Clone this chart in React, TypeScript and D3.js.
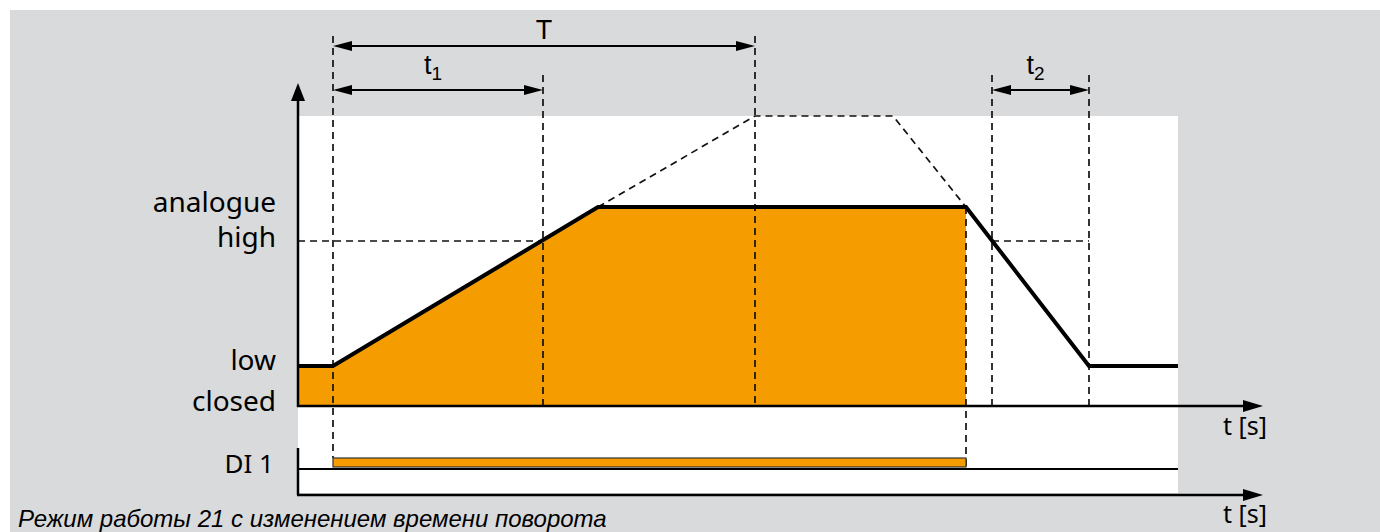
import * as d3 from "d3";

// time points (x units, 10 px each)
const rampStart = 3.5;
const t1End = 24.5;
const plateauStart = 30;
const bigTEnd = 45.7;
const setTopEnd = 59.5;
const fallStart = 66.8;
const t2Start = 69.4;
const t2End = 79.1;
const timeEnd = 88;
const axisEnd = 96.5;

// levels (percent of the y axis)
const levelNames = ["closed", "low", "high", "analogue"];
const levelValues = [0, 13.8, 56.9, 68.6];
const setTop = 100;
const yAxisTop = 111.4;

// actual output curve
const outputTimes = [0, rampStart, plateauStart, fallStart, t2End, timeEnd];
const outputLevels = [13.8, 13.8, 68.6, 68.6, 13.8, 13.8];

// dashed set-point curve beyond the limit
const setTimes = [plateauStart, bigTEnd, setTopEnd, fallStart];
const setLevels = [68.6, setTop, setTop, 68.6];

// DI 1 active interval
const diOn = [rampStart, fallStart];

// dimension arrows
const dims = [
  { label: "T", sub: "", from: rampStart, to: bigTEnd, row: 0 },
  { label: "t", sub: "1", from: rampStart, to: t1End, row: 1 },
  { label: "t", sub: "2", from: t2Start, to: t2End, row: 1 },
];

const caption = "Режим работы 21 с изменением времени поворота";

const ORANGE = "#f59c00";
const GRAY = "#d9dadc";
const labelFont = "'Noto Sans', 'DejaVu Sans', sans-serif";
const narrowFont = "'Liberation Sans Narrow', 'Liberation Sans', Arial, sans-serif";

export default function App() {
  const W = 1380;
  const H = 532;
  const x = d3.scaleLinear().domain([0, timeEnd]).range([298, 1178]);
  const y = d3.scaleLinear().domain([0, setTop]).range([406, 116]);

  const pts = outputTimes.map((t, i) => [t, outputLevels[i]] as [number, number]);
  const line = d3
    .line<[number, number]>()
    .x(d => x(d[0]))
    .y(d => y(d[1]));
  const area = d3
    .area<[number, number]>()
    .x(d => x(d[0]))
    .y0(y(0))
    .y1(d => y(d[1]));
  const fillPts = pts.filter(d => d[0] <= fallStart);
  const setPts = setTimes.map((t, i) => [t, setLevels[i]] as [number, number]);

  const lvl = (name: string) => levelValues[levelNames.indexOf(name)];

  const dimY = [46, 90];
  const diLineY = 469;
  const diBarTop = 458;
  const diBarBot = 467;
  const axis2Y = 495;
  const dash = "7 5";
  const dashW = 1.7;

  const vDashes = [
    { t: rampStart, y1: 36, y2: diBarTop },
    { t: t1End, y1: 75, y2: y(0) },
    { t: bigTEnd, y1: 36, y2: y(0) },
    { t: fallStart, y1: y(lvl("analogue")), y2: diLineY },
    { t: t2Start, y1: 75, y2: y(0) },
    { t: t2End, y1: 75, y2: y(0) },
  ];

  const hArrow = (tipX: number, yy: number, dir: number, len: number, hw: number) =>
    `M${tipX},${yy} L${tipX - dir * len},${yy - hw} L${tipX - dir * len},${yy + hw} Z`;

  const tAxisX = x(axisEnd);

  const labels = [
    { text: "analogue", yy: y(lvl("analogue")) + 5 },
    { text: "high", yy: y(lvl("high")) + 6 },
    { text: "low", yy: y(lvl("low")) + 4 },
    { text: "closed", yy: y(0) + 5 },
  ];

  return (
    <svg
      width={W}
      height={H}
      style={{ position: "absolute", left: 0, top: 0, display: "block" }}
    >
      <rect x={10} y={10} width={W - 10} height={H - 10} fill={GRAY} />
      <rect x={x(0)} y={y(setTop)} width={x(timeEnd) - x(0)} height={axis2Y - 2 - y(setTop)} fill="#fff" />

      {/* output area */}
      <path d={area(fillPts) || ""} fill={ORANGE} />

      {/* high reference dashes */}
      <line x1={x(0)} x2={x(t1End)} y1={y(lvl("high"))} y2={y(lvl("high"))} stroke="#111" strokeWidth={dashW} strokeDasharray={dash} />
      <line x1={x(t2Start)} x2={x(t2End)} y1={y(lvl("high"))} y2={y(lvl("high"))} stroke="#111" strokeWidth={dashW} strokeDasharray={dash} />

      {/* vertical dashes */}
      {vDashes.map((v, i) => (
        <line key={i} x1={x(v.t)} x2={x(v.t)} y1={v.y1} y2={v.y2} stroke="#111" strokeWidth={dashW} strokeDasharray={dash} />
      ))}

      {/* set-point dashed */}
      <path d={line(setPts) || ""} fill="none" stroke="#111" strokeWidth={dashW} strokeDasharray={dash} />

      {/* output line */}
      <path d={line(pts) || ""} fill="none" stroke="#000" strokeWidth={4} strokeLinejoin="miter" />

      {/* axes top chart */}
      <line x1={x(0)} x2={x(0)} y1={y(0) + 1} y2={y(yAxisTop) + 14} stroke="#000" strokeWidth={2.5} />
      <path d={`M${x(0)},${y(yAxisTop)} L${x(0) - 7},${y(yAxisTop) + 18} L${x(0) + 7},${y(yAxisTop) + 18} Z`} fill="#000" />
      <line x1={x(0) - 1} x2={tAxisX - 15} y1={y(0)} y2={y(0)} stroke="#000" strokeWidth={2.5} />
      <path d={hArrow(tAxisX, y(0), 1, 20, 6)} fill="#000" />
      <text x={tAxisX + 4} y={435} textAnchor="end" fontFamily={labelFont} fontSize={25} fill="#000">t [s]</text>

      {/* DI panel */}
      <line x1={x(0)} x2={x(0)} y1={448} y2={axis2Y} stroke="#000" strokeWidth={2.5} />
      <line x1={x(0)} x2={x(timeEnd)} y1={diLineY} y2={diLineY} stroke="#000" strokeWidth={2} />
      <rect x={x(diOn[0])} y={diBarTop} width={x(diOn[1]) - x(diOn[0])} height={diBarBot - diBarTop} fill={ORANGE} stroke="#333" strokeWidth={1.2} />
      <line x1={x(0) - 1} x2={tAxisX - 15} y1={axis2Y} y2={axis2Y} stroke="#000" strokeWidth={2.5} />
      <path d={hArrow(tAxisX, axis2Y, 1, 20, 6)} fill="#000" />
      <text x={tAxisX + 4} y={523} textAnchor="end" fontFamily={labelFont} fontSize={25} fill="#000">t [s]</text>
      <text x={274} y={473} textAnchor="end" fontFamily={labelFont} fontSize={26} fill="#000">DI 1</text>

      {/* level labels */}
      {labels.map(l => (
        <text key={l.text} x={276} y={l.yy} textAnchor="end" fontFamily={labelFont} fontSize={28} fill="#000">
          {l.text}
        </text>
      ))}

      {/* dimension arrows */}
      {dims.map((d, i) => {
        const yy = dimY[d.row];
        const a = x(d.from);
        const b = x(d.to);
        const mid = (a + b) / 2;
        return (
          <g key={i}>
            <line x1={a + 10} x2={b - 10} y1={yy} y2={yy} stroke="#000" strokeWidth={2.2} />
            <path d={hArrow(a, yy, -1, 19, 5)} fill="#000" />
            <path d={hArrow(b, yy, 1, 19, 5)} fill="#000" />
            <text x={d.sub ? mid - 5 : mid} y={d.row === 0 ? 39 : 74} textAnchor="middle" fontFamily={narrowFont} fontSize={27} fill="#000">
              {d.label}
              {d.sub && (
                <tspan fontSize={19} dy={6}>
                  {d.sub}
                </tspan>
              )}
            </text>
          </g>
        );
      })}

      <text x={18} y={527} fontFamily="'Liberation Sans', Arial, sans-serif" fontStyle="italic" fontSize={24} fill="#000">
        {caption}
      </text>
    </svg>
  );
}
